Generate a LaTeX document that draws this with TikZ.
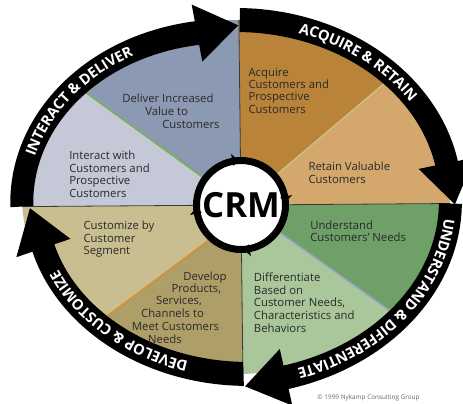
\documentclass[tikz,border=0pt]{standalone}
\usepackage{fontspec}
\setmainfont{Open Sans}
\usetikzlibrary{calc,decorations.text}
\definecolor{cDeliver}{HTML}{8C99B2}
\definecolor{cInteract}{HTML}{C4C8D7}
\definecolor{cAcquire}{HTML}{B9833A}
\definecolor{cRetain}{HTML}{D4A86C}
\definecolor{cUnder}{HTML}{6FA068}
\definecolor{cDiff}{HTML}{A9C79B}
\definecolor{cCustom}{HTML}{C9BE90}
\definecolor{cDevelop}{HTML}{AE9F68}
\definecolor{lnGreen}{HTML}{76B24E}
\definecolor{lnKhaki}{HTML}{CDBF88}
\definecolor{lnBlue}{HTML}{98A1C8}
\definecolor{lnOrange}{HTML}{D98D2E}
\definecolor{lnDark}{HTML}{3A3A3A}
\definecolor{txtDark}{HTML}{2A2A2A}
\def\cx{236}\def\cy{197}
\def\ai{203}\def\bi{165}
\def\ao{226}\def\bo{189}
\def\am{214.5}\def\bm{177}
\newcommand{\bandfont}{\fontsize{11}{11}\selectfont\bfseries}
% #1 start angle, #2 end angle, #3 inward offset at start, #4 inward offset at end
\newcommand{\ringband}[4]{%
  \pgfmathsetmacro{\kk}{((#4)-(#3))/((#2)-(#1))}%
  \coordinate (Pi) at ({\cx+(\ai-(#4))*cos(#2)},{\cy+(\bi-(#4))*sin(#2)});
  \coordinate (Po) at ({\cx+(\ao-(#4))*cos(#2)},{\cy+(\bo-(#4))*sin(#2)});
  \coordinate (Mh) at ($(Pi)!0.5!(Po)$);
  \coordinate (Bi) at ($(Pi)!-12.75pt!(Po)$);
  \coordinate (Bo) at ($(Po)!-12.75pt!(Pi)$);
  \coordinate (Th) at ($(Mh)!31.5pt!-90:(Po)$);
  \fill[black] plot[domain=#1:#2,samples=60,variable=\t]
     ({\cx+(\ao-((#3)+\kk*(\t-(#1))))*cos(\t)},{\cy+(\bo-((#3)+\kk*(\t-(#1))))*sin(\t)})
     -- (Bo) -- (Th) -- (Bi) --
     plot[domain=#2:#1,samples=60,variable=\t]
     ({\cx+(\ai-((#3)+\kk*(\t-(#1))))*cos(\t)},{\cy+(\bi-((#3)+\kk*(\t-(#1))))*sin(\t)})
     -- cycle;
}
\newcommand{\bandtext}[7]{%
  \pgfmathsetmacro{\kk}{((#4)-(#3))/((#2)-(#1))}%
  \path[decorate,decoration={text along path,text={|\bandfont|#7},text align=center,text color=white,raise=-3.9pt}]
    plot[domain=#5:#6,samples=90,variable=\t]
    ({\cx+(\am-((#3)+\kk*(\t-(#1))))*cos(\t)},{\cy+(\bm-((#3)+\kk*(\t-(#1))))*sin(\t)});
}
\begin{document}
\begin{tikzpicture}[x=0.75pt,y=-0.75pt,
  txt/.style={font=\fontsize{8.5}{9.5}\selectfont, text=txtDark, inner sep=0pt, anchor=base west},
  txtc/.style={txt, anchor=base},
  divider/.style={line width=1.1pt},
  qline/.style={draw=lnDark, line width=0.6pt}]
\useasboundingbox (0,0) rectangle (463,403);
\clip (0,0) rectangle (463,403);
\fill[white] (0,0) rectangle (463,403);
% pie
\coordinate (P) at (241,205);
\begin{scope}
  \clip (\cx,\cy) ellipse [x radius=214, y radius=177];
  \fill[cInteract] (P) -- (237.5,-100) -- (-60,-100) -- (-60,207.2) -- cycle;
  \fill[cRetain] (P) -- (237.5,-100) -- (520,-100) -- (520,203) -- cycle;
  \fill[cDiff] (P) -- (520,203) -- (520,460) -- (243.9,460) -- cycle;
  \fill[cCustom] (P) -- (243.9,460) -- (-60,460) -- (-60,207.2) -- cycle;
  \fill[cDeliver] (P) -- (237.5,-100) -- (-180,-100) -- cycle;
  \fill[cAcquire] (P) -- (237.5,-100) -- (600.7,-100) -- cycle;
  \fill[cUnder] (P) -- (560,202.7) -- (560,431.3) -- cycle;
  \fill[cDevelop] (241.1,216.2) -- (243.9,460) -- (-86,460) -- cycle;
  \draw[divider, lnGreen] (P) -- (-180,-100);
  \draw[divider, lnKhaki] (P) -- (600.7,-100);
  \draw[divider, lnBlue] (P) -- (560,431.3);
  \draw[divider, lnOrange] (241.1,216.2) -- (-86,460);
  \draw[qline] (237.5,-100) -- (243.9,460);
  \draw[qline] (-60,207.2) -- (520,203);
\end{scope}
% outer arrow ring
\ringband{176.9}{259}{0}{10}
\ringband{-89}{-11}{0}{0}
\ringband{2.1}{77}{0}{-8}
\ringband{88}{162}{0}{12}
\bandtext{176.9}{259}{0}{10}{180}{252}{INTERACT {\&} DELIVER}
\bandtext{-89}{-11}{0}{0}{-88}{-16}{ACQUIRE {\&} RETAIN}
\bandtext{2.1}{77}{0}{-8}{3}{77}{UNDERSTAND {\&} DIFFERENTIATE}
\bandtext{88}{162}{0}{12}{94}{165}{DEVELOP {\&} CUSTOMIZE}
% centre
\node[circle, draw=black, line width=5.25pt, fill=white, minimum size=66.75pt, inner sep=0pt,
      font=\fontsize{26}{26}\selectfont\bfseries] (crm) at (P) {CRM};
\foreach \p in {259,349,79,169}{
  \fill[black] ({241+52*cos(\p)},{205+52*sin(\p)}) -- ({241+44.5*cos(\p+8)},{205+44.5*sin(\p+8)})
     -- ({241+40*cos(\p)},{205+40*sin(\p)}) -- cycle;
}
% texts
\node[txt] (d1) at (122,102) {Deliver Increased};
\node[txt] (d2) at (145,115) {Value to};
\node[txt] (d3) at (162,128) {Customers};
\node[txt] (i1) at (69,159) {Interact with};
\node[txt] (i2) at (69,172) {Customers and};
\node[txt] (i3) at (69,184) {Prospective};
\node[txt] (i4) at (69,197) {Customers};
\node[txt] (a1) at (248.3,76) {Acquire};
\node[txt] (a2) at (248.3,88.3) {Customers and};
\node[txt] (a3) at (248.3,100.7) {Prospective};
\node[txt] (a4) at (248.3,113) {Customers};
\node[txt] (r1) at (308.3,170.7) {Retain Valuable};
\node[txt] (r2) at (308.3,183.3) {Customers};
\node[txt] (u1) at (310,229.3) {Understand};
\node[txt] (u2) at (310,241.7) {Customers’ Needs};
\node[txt] (f1) at (253.7,281.7) {Differentiate};
\node[txt] (f2) at (253.7,294) {Based on};
\node[txt] (f3) at (253.7,306) {Customer Needs,};
\node[txt] (f4) at (253.7,319.3) {Characteristics and};
\node[txt] (f5) at (253.7,332) {Behaviors};
\node[txt] (c1) at (83.3,229.3) {Customize by};
\node[txt] (c2) at (83.3,242) {Customer};
\node[txt] (c3) at (83.3,254.3) {Segment};
\node[txtc] (v1) at (205,280) {Develop};
\node[txtc] (v2) at (196.3,292.3) {Products,};
\node[txtc] (v3) at (179,304) {Services,};
\node[txtc] (v4) at (172.5,317.3) {Channels to};
\node[txtc] (v5) at (175.5,330.7) {Meet Customers};
\node[txtc] (v6) at (165,343.3) {Needs};
\node[font=\fontsize{4.8}{5}\selectfont, text=black!60, inner sep=0pt, anchor=base] (copy) at (368.5,399) {© 1999 Nykamp Consulting Group};
\end{tikzpicture}
\end{document}
